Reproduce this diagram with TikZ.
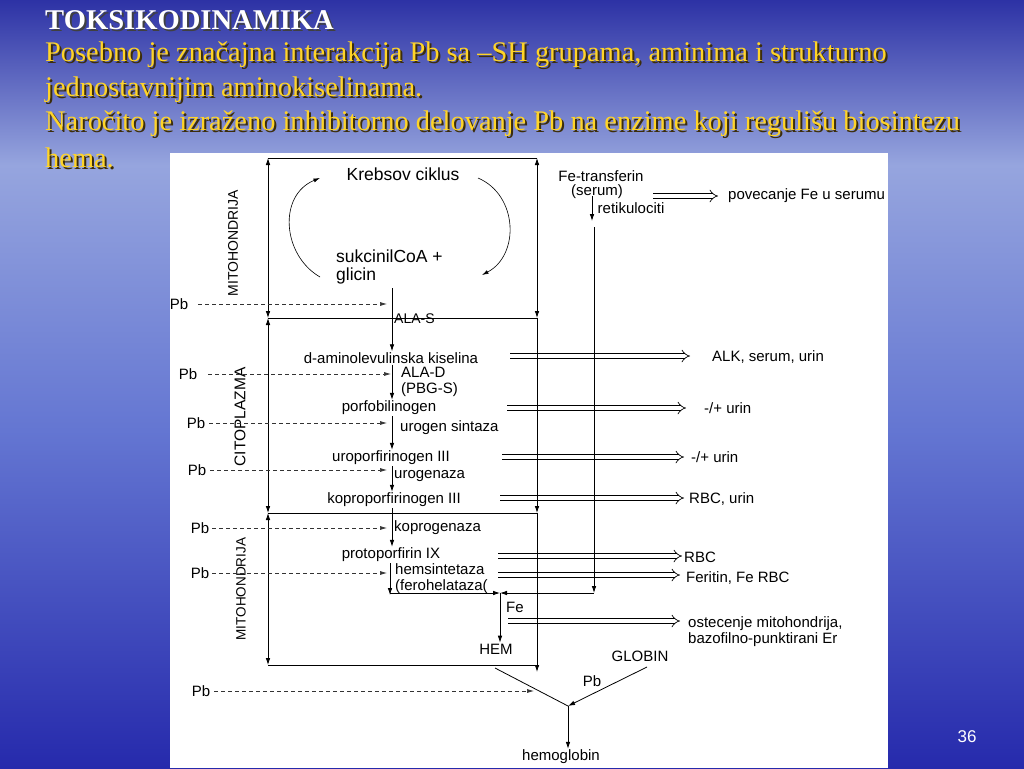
\documentclass[tikz,border=0pt]{standalone}
\usepackage{fontspec}
\setmainfont{Liberation Serif}
\newfontfamily\arialf{Liberation Sans}
\usetikzlibrary{arrows.meta,calc}
\definecolor{bgA}{RGB}{45,50,165}
\definecolor{bgB}{RGB}{150,165,222}
\definecolor{bgC}{RGB}{100,118,210}
\definecolor{bgD}{RGB}{38,42,172}
\definecolor{ttl}{RGB}{255,212,40}
\definecolor{ttlsh}{RGB}{60,45,10}
\begin{document}
\begin{tikzpicture}[x=1pt,y=-1pt,
  lbl/.style={font=\arialf\fontsize{15}{16}\selectfont, inner sep=1pt},
  big/.style={font=\arialf\fontsize{17.5}{18}\selectfont, inner sep=1pt},
  side/.style={font=\arialf\fontsize{14}{16}\selectfont, rotate=90, inner sep=1pt},
  ln/.style={line width=0.8pt},
  arr/.style={line width=0.8pt, -{Latex[length=7pt,width=4.6pt]}},
  dim/.style={line width=0.8pt, {Latex[length=7pt,width=4.6pt]}-{Latex[length=7pt,width=4.6pt]}},
  pbarr/.style={line width=0.7pt, dash pattern=on 4pt off 3pt, draw=black!80, -{Latex[length=7pt,width=4pt]}},
  dbl/.style={double, double distance=3.8pt, line width=0.7pt, -{Implies}},
  ttlfont/.style={font=\fontsize{28.4}{30}\selectfont, inner sep=0pt, anchor=west},
]
\useasboundingbox (0,0) rectangle (1024,768);
% background
\fill[top color=bgA, bottom color=bgB] (0,0) rectangle (1024,165);
\fill[top color=bgB, bottom color=bgC] (0,165) rectangle (1024,430);
\fill[top color=bgC, bottom color=bgD] (0,430) rectangle (1024,768);
% panel
\fill[white] (170,153) rectangle (888,768);

% titles
\node[font=\bfseries\fontsize{28.6}{30}\selectfont, inner sep=0pt, anchor=west, text=black!75] at (47,22) {TOKSIKODINAMIKA};
\node[font=\bfseries\fontsize{28.6}{30}\selectfont, inner sep=0pt, anchor=west, text=white] (title) at (45,20) {TOKSIKODINAMIKA};
\node[ttlfont, text=ttlsh] at (47,57) {Posebno je značajna interakcija Pb sa –SH grupama, aminima i strukturno};
\node[ttlfont, text=ttl] (t1) at (45,55) {Posebno je značajna interakcija Pb sa –SH grupama, aminima i strukturno};
\node[ttlfont, text=ttlsh] at (47,92) {jednostavnijim aminokiselinama.};
\node[ttlfont, text=ttl] (t2) at (45,90) {jednostavnijim aminokiselinama.};
\node[ttlfont, text=ttlsh] at (47,126) {Naročito je izraženo inhibitorno delovanje Pb na enzime koji regulišu biosintezu};
\node[ttlfont, text=ttl] (t3) at (45,124) {Naročito je izraženo inhibitorno delovanje Pb na enzime koji regulišu biosintezu};
\node[ttlfont, text=ttlsh] at (47,160) {hema.};
\node[ttlfont, text=ttl] (t4) at (45,158) {hema.};

% region frame coordinates
\coordinate (L0) at (268,158); \coordinate (R0) at (537,158);
\coordinate (L1) at (268,318); \coordinate (R1) at (537,318);
\coordinate (L2) at (268,513); \coordinate (R2) at (537,513);
\coordinate (L3) at (268,665); \coordinate (R3h) at (537,665);
\coordinate (R3) at (537,672);
\coordinate (px) at (392,0);

% text nodes
\node[big] (krebs) at (403,174) {Krebsov ciklus};
\node[big, anchor=west, align=left] (suk) at (335,267) {sukcinilCoA +\\glicin};
\node[side] (mito1) at (233,243) {MITOHONDRIJA};
\node[side, font=\arialf\fontsize{15.5}{16}\selectfont] (cito) at (240,417) {CITOPLAZMA};
\node[side, font=\arialf\fontsize{13.5}{16}\selectfont] (mito2) at (241,589) {MITOHONDRIJA};

\node[lbl, anchor=west, font=\arialf\fontsize{14}{16}\selectfont] (alas) at (393,319) {ALA-S};
\node[lbl] (dala) at (391,358) {d-aminolevulinska kiselina};
\node[lbl, anchor=west, align=left] (alad) at (400,382) {ALA-D\\(PBG-S)};
\node[lbl] (pbg) at (389,408) {porfobilinogen};
\node[lbl, anchor=west] (urs) at (399,428) {urogen sintaza};
\node[lbl] (uro) at (391,458) {uroporfirinogen III};
\node[lbl, anchor=west] (urg) at (393,476) {urogenaza};
\node[lbl] (kopro) at (394,500) {koproporfirinogen III};
\node[lbl, anchor=west] (kpg) at (393,528) {koprogenaza};
\node[lbl] (proto) at (391,555) {protoporfirin IX};
\node[lbl, anchor=west, align=left] (hems) at (394,579) {hemsintetaza\\(ferohelataza(};
\node[lbl, anchor=west] (fe) at (505,607) {Fe};
\node[lbl] (hem) at (496,649) {HEM};
\node[lbl] (globin) at (640,656) {GLOBIN};
\node[lbl] (pbb) at (592,681) {Pb};
\node[lbl] (hemo) at (561,757) {hemoglobin};
\node[lbl] (fet) at (601,176) {Fe-transferin};
\node[lbl] (ser) at (597,192) {(serum)};
\node[lbl] (ret) at (631,208) {retikulociti};

% outputs
\node[lbl, anchor=west] (o1) at (727,196) {povecanje Fe u serumu};
\node[lbl, anchor=west] (o2) at (711,357) {ALK, serum, urin};
\node[lbl, anchor=west] (o3) at (703,408) {-/+ urin};
\node[lbl, anchor=west] (o4) at (690,457) {-/+ urin};
\node[lbl, anchor=west] (o5) at (688,499) {RBC, urin};
\node[lbl, anchor=west] (o6) at (683,557) {RBC};
\node[lbl, anchor=west] (o7) at (685,578) {Feritin, Fe RBC};
\node[lbl, anchor=west, align=left] (o8) at (687,632) {ostecenje mitohondrija,\\bazofilno-punktirani Er};

\coordinate (d1) at (653,196);
\coordinate (d2) at (510,356);
\coordinate (d3) at (507,408);
\coordinate (d4) at (502,457);
\coordinate (d5) at (500,498);
\coordinate (d6) at (498,556);
\coordinate (d7) at (498,575);
\coordinate (d8) at (508,621);
\draw[dbl] (d1) -- ($(d1 -| o1.west)+(-9,0)$);
\draw[dbl] (d2) -- ($(d2 -| o2.west)+(-21,0)$);
\draw[dbl] (d3) -- ($(d3 -| o3.west)+(-17,0)$);
\draw[dbl] (d4) -- ($(d4 -| o4.west)+(-6,0)$);
\draw[dbl] (d5) -- ($(d5 -| o5.west)+(-4,0)$);
\draw[dbl] (d6) -- ($(d6 -| o6.west)+(-1,0)$);
\draw[dbl] (d7) -- ($(d7 -| o7.west)+(-5,0)$);
\draw[dbl] (d8) -- ($(d8 -| o8.west)+(-7,0)$);

% frame
\draw[ln] (L0) -- (R0);
\draw[ln] (L1) -- (R1);
\draw[ln] (L2) -- (R2);
\draw[ln] (L3) -- (R3h);
\draw[dim] (L0) -- (L1);
\draw[dim] (L1) -- (L2);
\draw[dim] (L2) -- (L3);
\draw[dim] (R0) -- (R1);
\draw[arr] (R1) -- (R2);
\draw[arr] (R2) -- (R3);

% Krebs cycle arrows
\coordinate (k1a) at (320,277); \coordinate (k1b) at (320,178);
\coordinate (k2a) at (478,178); \coordinate (k2b) at (482,275);
\draw[line width=0.6pt, -{Latex[length=6.5pt,width=4pt]}] (k1a) .. controls (282,255) and (278,195) .. (k1b);
\draw[line width=0.6pt, -{Latex[length=6.5pt,width=4pt]}] (k2a) .. controls (518,195) and (520,255) .. (k2b);

% main pathway
\coordinate (s0) at (392,288);
\draw[arr] (s0) -- (dala.north -| px);
\draw[arr] (dala.south -| px) -- (pbg.north -| px);
\draw[arr] (pbg.south -| px) -- (uro.north -| px);
\draw[arr] (uro.south -| px) -- (kopro.north -| px);
\draw[arr] (kopro.south -| px) -- (proto.north -| px);
\coordinate (hb) at (390,593);
\coordinate (J) at (500,593);
\draw[arr] (proto.south -| hb) -- ($(hb)+(0,2)$);
\draw[arr] (hb) -- (J);
% transferrin branch
\coordinate (tf0) at (592,196);
\coordinate (tf1) at (592,221);
\coordinate (T1) at (594,227);
\coordinate (T2) at (594,593);
\draw[arr] (tf0) -- (tf1);
\draw[arr] (T1) -- (T2);
\draw[arr] (T2) -- (J);
\draw[arr] (J) -- (hem.north -| J);
% hemoglobin
\coordinate (hs) at (495,668);
\coordinate (gs) at (647,667);
\coordinate (H) at (568,706);
\draw[ln] (hs) -- (H);
\draw[arr] (gs) -- (H);
\draw[arr] (H) -- (hemo.north -| H);

% Pb inhibitions
\node[lbl] (pb1) at (179,304) {Pb};
\node[lbl] (pb2) at (188,374) {Pb};
\node[lbl] (pb3) at (196,423) {Pb};
\node[lbl] (pb4) at (197,470) {Pb};
\node[lbl] (pb5) at (200,528) {Pb};
\node[lbl] (pb6) at (200,573) {Pb};
\node[lbl] (pb7) at (201,691) {Pb};
\coordinate (e1) at (387,304);
\coordinate (e2) at (391,374);
\coordinate (e3) at (387,423);
\coordinate (e4) at (387,470);
\coordinate (e5) at (387,528);
\coordinate (e6) at (387,573);
\coordinate (e7) at (534,691);
\draw[pbarr] ($(pb1.east)+(9,0)$) -- (e1);
\draw[pbarr] ($(pb2.east)+(10,0)$) -- (e2);
\draw[pbarr] ($(pb3.east)+(3,0)$) -- (e3);
\draw[pbarr] ($(pb4.east)+(3,0)$) -- (e4);
\draw[pbarr] ($(pb5.east)+(2,0)$) -- (e5);
\draw[pbarr] ($(pb6.east)+(2,0)$) -- (e6);
\draw[pbarr] ($(pb7.east)+(3,0)$) -- (e7);

% slide number
\node[font=\arialf\fontsize{17}{18}\selectfont, text=white, inner sep=0pt] (num) at (967,737) {36};
\end{tikzpicture}
\end{document}
